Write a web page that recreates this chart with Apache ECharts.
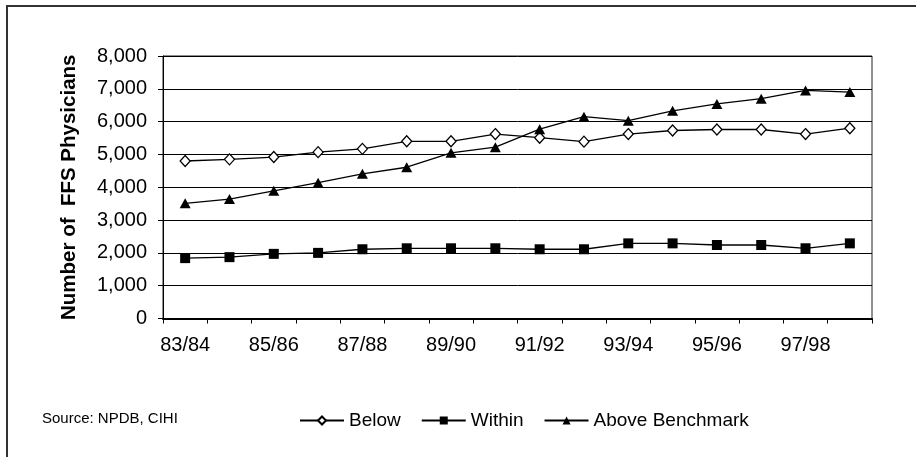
<!DOCTYPE html>
<html>
<head>
<meta charset="utf-8">
<script src="https://cdn.jsdelivr.net/npm/echarts@6/dist/echarts.min.js"></script>
<style>
  html, body { margin: 0; padding: 0; background: #fff; }
  #chart { width: 916px; height: 457px; }
</style>
</head>
<body>
<div id="chart"></div>
<script>
// Fiscal years
const categories = ['83/84','84/85','85/86','86/87','87/88','88/89','89/90','90/91',
                    '91/92','92/93','93/94','94/95','95/96','96/97','97/98','98/99'];
// Number of FFS physicians by benchmark group
const below  = [4800,4850,4920,5070,5170,5400,5400,5620,5510,5390,5620,5730,5760,5760,5620,5800];
const within = [1840,1870,1970,2000,2110,2140,2140,2140,2110,2110,2290,2290,2240,2240,2140,2290];
const above  = [3510,3640,3890,4140,4410,4610,5050,5220,5770,6150,6030,6330,6540,6700,6950,6900];
const seriesNames = ['Below', 'Within', 'Above Benchmark'];
const yTicks = { min: 0, max: 8000, interval: 1000 };

const font = "'Liberation Sans', Arial, Helvetica, sans-serif";
const chart = echarts.init(document.getElementById('chart'), null, { renderer: 'canvas' });

const lineBase = {
  type: 'line',
  lineStyle: { color: '#000', width: 1.3 },
  emphasis: { disabled: true },
  animation: false,
  z: 3
};

chart.setOption({
  backgroundColor: '#fff',
  animation: false,
  textStyle: { fontFamily: font, color: '#000' },
  grid: {
    left: 163, top: 56, width: 709, height: 262.5,
    show: true, borderColor: '#222', borderWidth: 1, backgroundColor: 'transparent'
  },
  xAxis: {
    type: 'category',
    data: categories,
    boundaryGap: true,
    axisLine: { show: true, lineStyle: { color: '#000', width: 2 } },
    axisTick: { show: true, interval: 0, length: 5, inside: false, lineStyle: { color: '#000', width: 1 } },
    axisLabel: { interval: 1, margin: 17, fontSize: 20, color: '#000', fontFamily: font },
    splitLine: { show: false }
  },
  yAxis: {
    type: 'value',
    min: yTicks.min, max: yTicks.max, interval: yTicks.interval,
    name: 'Number of  FFS Physicians',
    nameLocation: 'middle',
    nameGap: 83,
    nameTextStyle: { fontSize: 20.5, fontWeight: 'bold', color: '#000', fontFamily: font },
    axisLine: { show: true, lineStyle: { color: '#000', width: 1 } },
    axisTick: { show: true, length: 5, lineStyle: { color: '#000', width: 1 } },
    axisLabel: {
      margin: 16, fontSize: 20, color: '#000', fontFamily: font,
      formatter: v => v.toLocaleString('en-US')
    },
    splitLine: { show: true, lineStyle: { color: '#000', width: 1 } }
  },
  legend: {
    left: 294, top: 406,
    itemWidth: 44, itemHeight: 10, itemGap: 20,
    textStyle: { fontSize: 19, color: '#000', fontFamily: font, padding: [0, 0, 0, 0] },
    data: seriesNames,
    selectedMode: false
  },
  series: [
    Object.assign({}, lineBase, {
      name: seriesNames[0], data: below,
      symbol: 'diamond', symbolSize: [10, 11], showAllSymbol: true,
      itemStyle: { color: '#fff', borderColor: '#000', borderWidth: 1.3 }
    }),
    Object.assign({}, lineBase, {
      name: seriesNames[1], data: within,
      symbol: 'rect', symbolSize: 10, showAllSymbol: true,
      itemStyle: { color: '#000', borderColor: '#000', borderWidth: 0 }
    }),
    Object.assign({}, lineBase, {
      name: seriesNames[2], data: above,
      symbol: 'triangle', symbolSize: [11, 10], showAllSymbol: true,
      itemStyle: { color: '#000', borderColor: '#000', borderWidth: 0 }
    })
  ],
  graphic: [
    {
      type: 'rect', left: 6, top: 5, silent: true, z: -1,
      shape: { width: 1000, height: 1000 },
      style: { fill: 'transparent', stroke: '#333', lineWidth: 2 }
    },
    {
      type: 'text', left: 42, top: 411, silent: true,
      style: { text: 'Source: NPDB, CIHI', font: '15px ' + font, fill: '#000' }
    }
  ]
});
</script>
</body>
</html>
